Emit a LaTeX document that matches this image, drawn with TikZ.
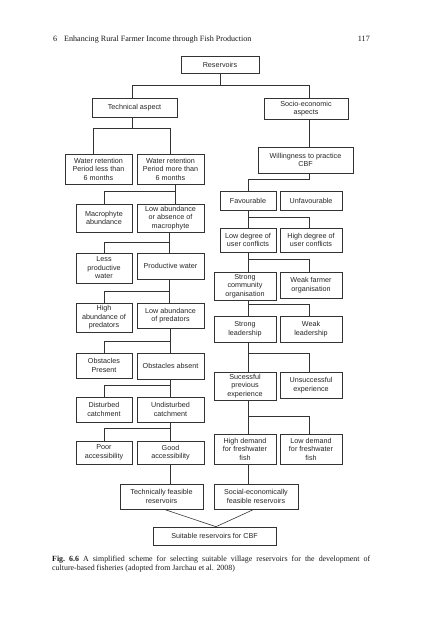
\documentclass[tikz,border=0pt]{standalone}
\usepackage{fontspec}
\setmainfont{Liberation Serif}
\newfontfamily\arialf{Liberation Sans}
\newcommand\bx[6]{\node[box, minimum width={#4-#2}, minimum height={#5-#3}] (#1) at ({(#2+#4)/2},{(#3+#5)/2}) {#6};}
\begin{document}
\begin{tikzpicture}[x=1pt,y=-1pt,
 box/.style={draw=black!80, line width=0.6pt, inner sep=0pt, align=center, font=\arialf\fontsize{7.2}{8.5}\selectfont, text=black!85},
 conn/.style={draw=black!80, line width=0.6pt},
 hdr/.style={font=\fontsize{8.1}{10}\selectfont, inner sep=0pt, text=black!90}]
\useasboundingbox[fill=white] (0,0) rectangle (422,640);
% header
\node[hdr, anchor=base west] (hn) at (53,41) {6};
\node[hdr, anchor=base west] (ht) at (64,41) {Enhancing Rural Farmer Income through Fish Production};
\node[hdr, anchor=base east] (hp) at (370,41) {117};
% boxes
\bx{res}{181}{56}{259}{73}{Reservoirs}
\bx{tech}{92}{98}{177}{117}{Technical aspect}
\bx{soc}{264}{98}{348}{119}{Socio-economic\\aspects}
\bx{wl}{65}{154}{132}{184}{Water retention\\Period less than\\6 months}
\bx{wm}{137}{154}{204}{184}{Water retention\\Period more than\\6 months}
\bx{ma}{76}{204}{132}{232}{Macrophyte\\abundance}
\bx{la}{137}{204}{204}{232}{Low abundance\\or absence of\\macrophyte}
\bx{lp}{76}{253}{132}{283}{Less\\productive\\water}
\bx{pw}{137}{253}{204}{279}{Productive water}
\bx{hpr}{76}{303}{132}{332}{High\\abundance of\\predators}
\bx{lpr}{137}{303}{204}{328}{Low abundance\\of predators}
\bx{op}{76}{353}{132}{378}{Obstacles\\Present}
\bx{oa}{137}{353}{204}{379}{Obstacles absent}
\bx{dc}{76}{397}{132}{422}{Disturbed\\catchment}
\bx{uc}{137}{397}{204}{422}{Undisturbed\\catchment}
\bx{pa}{76}{441}{132}{464}{Poor\\accessibility}
\bx{ga}{137}{441}{204}{464}{Good\\accessibility}
\bx{tf}{120}{484}{203}{509}{Technically feasible\\reservoirs}
\bx{sf}{214}{484}{298}{509}{Social-economically\\feasible reservoirs}
\bx{sr}{153}{527}{276}{545}{Suitable reservoirs for CBF}
\bx{will}{258}{147}{353}{173}{Willingness to practice\\CBF}
\bx{fav}{220}{191}{276}{210}{Favourable}
\bx{unf}{280}{191}{342}{210}{Unfavourable}
\bx{ldc}{220}{228}{276}{252}{Low degree of\\user conflicts}
\bx{hdc}{280}{228}{342}{252}{High degree of\\user conflicts}
\bx{sco}{214}{272}{276}{300}{Strong\\community\\organisation}
\bx{wfo}{280}{272}{342}{298}{Weak farmer\\organisation}
\bx{sl}{214}{316}{276}{342}{Strong\\leadership}
\bx{wld}{280}{316}{342}{342}{Weak\\leadership}
\bx{se}{214}{372}{276}{400}{Sucessful\\previous\\experience}
\bx{ue}{280}{372}{342}{398}{Unsuccessful\\experience}
\bx{hd}{214}{434}{276}{464}{High demand\\for freshwater\\fish}
\bx{ld}{280}{434}{342}{464}{Low demand\\for freshwater\\fish}
% connectors: top
\draw[conn] (res.south) -- ++(0,12) coordinate (jA);
\draw[conn] ([xshift=-2.5pt]tech.north) |- (jA) -| ([xshift=3pt]soc.north);
% left column
\draw[conn] ([xshift=-2.5pt]tech.south) -- ++(0,11) coordinate (jB);
\draw[conn] ([xshift=-5.5pt]wl.north) |- (jB) -| (wm.north);
\draw[conn] ([xshift=4.5pt]wm.south) -- ([xshift=4.5pt]la.north);
\draw[conn] (ma.north) |- ([xshift=4.5pt,yshift=-7pt]wm.south);
\draw[conn] ([xshift=-1.5pt]la.south) -- ([xshift=-1.5pt]pw.north);
\draw[conn] (lp.north) |- ([xshift=-1.5pt,yshift=-10pt]la.south);
\draw[conn] ([xshift=-1.5pt]pw.south) -- ([xshift=-1.5pt]lpr.north);
\draw[conn] (hpr.north) |- ([xshift=-1.5pt,yshift=-12pt]pw.south);
\draw[conn] ([xshift=-0.5pt]lpr.south) -- ([xshift=-0.5pt]oa.north);
\draw[conn] (op.north) |- ([xshift=-0.5pt,yshift=-13pt]lpr.south);
\draw[conn] ([xshift=-0.5pt]oa.south) -- ([xshift=-0.5pt]uc.north);
\draw[conn] (dc.north) |- ([xshift=-0.5pt,yshift=-6pt]oa.south);
\draw[conn] ([xshift=-0.5pt]uc.south) -- ([xshift=-0.5pt]ga.north);
\draw[conn] (pa.north) |- ([xshift=-0.5pt,yshift=-6pt]uc.south);
\draw[conn] ([xshift=-0.5pt]ga.south) -- ([xshift=-0.5pt]ga.south |- tf.north);
% right column
\draw[conn] ([xshift=3pt]soc.south) -- ([xshift=3pt]soc.south |- will.north);
\draw[conn] ([xshift=3.5pt]will.south) -- ++(0,6) -| (fav.north);
\draw[conn] (fav.south) -- (ldc.north);
\draw[conn] ([xshift=-2pt]hdc.north) |- ([yshift=-7pt]fav.south);
\draw[conn] (ldc.south) -- ([xshift=3pt]sco.north);
\draw[conn] ([xshift=-2pt]wfo.north) |- ([yshift=-7pt]ldc.south);
\draw[conn] ([xshift=3pt]sco.south) -- ([xshift=3pt]sl.north);
\draw[conn] ([xshift=-2pt]wld.north) |- ([xshift=3pt,yshift=-3.5pt]sco.south);
\draw[conn] ([xshift=3pt]sl.south) -- ([xshift=3pt]se.north);
\draw[conn] ([xshift=-2pt]ue.north) |- ([xshift=3pt,yshift=-11pt]sl.south);
\draw[conn] ([xshift=3pt]se.south) -- ([xshift=3pt]hd.north);
\draw[conn] ([xshift=-2pt]ld.north) |- ([xshift=3pt,yshift=-16pt]se.south);
\draw[conn] ([xshift=3pt]hd.south) -- ([xshift=3pt]hd.south |- sf.north);
% merge
\draw[conn] ([xshift=2.5pt]tf.south) -- ([xshift=1.5pt]sr.north) -- ([xshift=-2pt]sf.south);
% caption
\node[anchor=north west, inner sep=0pt, text width=318pt, align=justify, font=\fontsize{7.9}{9}\selectfont, text=black!90] (cap) at (52,556)
{\textbf{Fig.~6.6}\hspace{0.5em}A simplified scheme for selecting suitable village reservoirs for the development of\linebreak culture-based fisheries (adopted from Jarchau et al. 2008)};
\end{tikzpicture}
\end{document}
